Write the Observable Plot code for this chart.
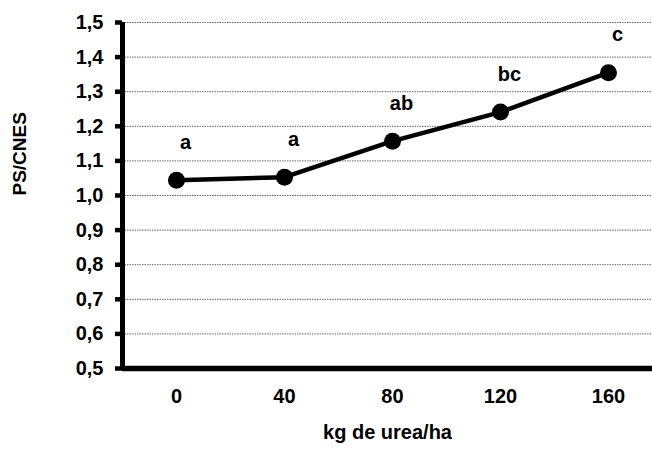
<!DOCTYPE html>
<html>
<head>
<meta charset="utf-8">
<script src="https://cdn.jsdelivr.net/npm/d3@7"></script>
<script src="https://cdn.jsdelivr.net/npm/@observablehq/plot@0.6"></script>
<style>
  html, body { margin: 0; padding: 0; background: #fff; }
  svg { font-family: "Liberation Sans", Arial, sans-serif; }
</style>
</head>
<body>
<div id="chart"></div>
<script>
// Urea dose (kg/ha) and PS/CNES ratio with significance letters
const doses = [0, 40, 80, 120, 160];
const ratio = [1.044, 1.053, 1.157, 1.241, 1.355];
const letters = ["a", "a", "ab", "bc", "c"];
const yTicks = [0.5, 0.6, 0.7, 0.8, 0.9, 1.0, 1.1, 1.2, 1.3, 1.4, 1.5];

const data = doses.map((d, i) => ({dose: d, value: ratio[i], letter: letters[i]}));
const comma = v => v.toFixed(1).replace(".", ",");
const FS = 20;

const chart = Plot.plot({
  width: 652,
  height: 450,
  marginLeft: 122,
  marginRight: 0,
  marginTop: 22,
  marginBottom: 82,
  style: {fontFamily: "'Liberation Sans', Arial, sans-serif", fontWeight: "bold", color: "#000", background: "#fff"},
  x: {domain: [-20, 176.3], axis: null},
  y: {domain: [0.5, 1.5], axis: null},
  marks: [
    // dotted horizontal gridlines
    Plot.ruleY(yTicks.slice(1), {stroke: "#666", strokeWidth: 1, strokeDasharray: "1.5,1"}),
    // y axis: thick tick marks and comma-decimal labels
    Plot.axisY({ticks: yTicks, tickFormat: comma, tickSize: 7, tickPadding: 12, strokeWidth: 4.5,
      fontSize: FS, fontWeight: "bold", label: null, anchor: "left"}),
    // x axis labels only
    Plot.axisX({ticks: doses, tickFormat: d => String(d), tickSize: 0, tickPadding: 20,
      fontSize: FS, fontWeight: "bold", label: null, anchor: "bottom"}),
    // heavy axis lines
    Plot.ruleX([-20], {stroke: "#000", strokeWidth: 5}),
    Plot.ruleY([0.5], {stroke: "#000", strokeWidth: 5.5}),
    // series
    Plot.line(data, {x: "dose", y: "value", stroke: "#000", strokeWidth: 4.5}),
    Plot.dot(data, {x: "dose", y: "value", r: 8.5, fill: "#000", stroke: "none"}),
    Plot.text(data, {x: "dose", y: "value", text: "letter", dx: 9, dy: -38,
      fontSize: FS, fontWeight: "bold", fill: "#000"}),
    // axis titles
    Plot.text(["kg de urea/ha"], {frameAnchor: "bottom", dy: 70, fontSize: FS, fontWeight: "bold", fill: "#000"}),
    Plot.text(["PS/CNES"], {frameAnchor: "left", dx: -103, rotate: -90, fontSize: 19, fontWeight: "bold", fill: "#000"})
  ]
});
document.getElementById("chart").appendChild(chart);
</script>
</body>
</html>
